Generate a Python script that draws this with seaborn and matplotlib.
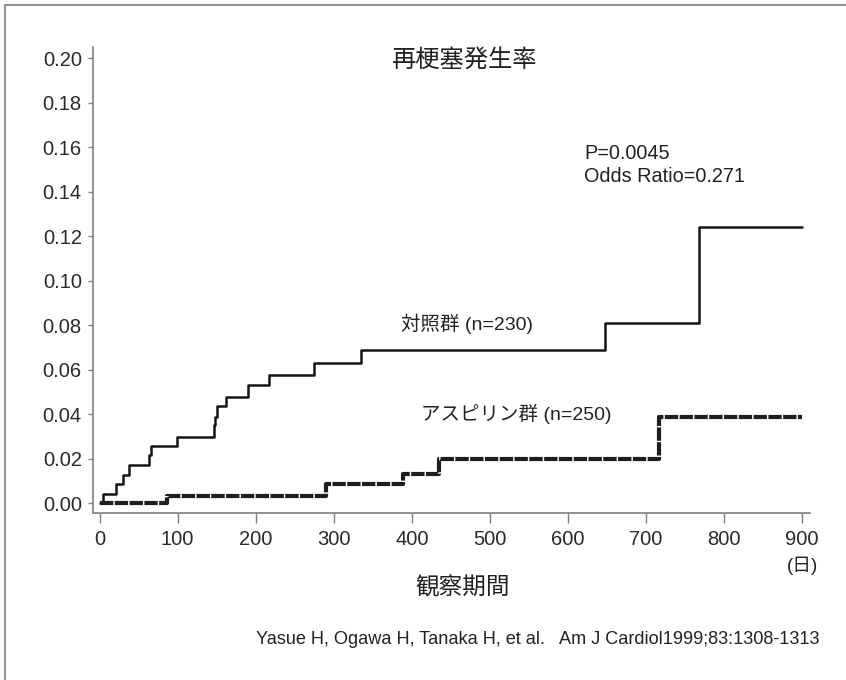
import matplotlib
matplotlib.use("Agg")
import matplotlib.pyplot as plt
from matplotlib.lines import Line2D
import seaborn as sns
import pandas as pd

# ---- data ----
control_days = [0, 5, 21, 30, 38, 63, 66, 99, 146, 148, 150, 162, 190, 217, 275, 335, 648, 768, 900]
control_rate = [0.0, 0.0042, 0.0088, 0.0128, 0.0174, 0.0217, 0.026, 0.030, 0.035, 0.039,
                0.0437, 0.048, 0.053, 0.0577, 0.063, 0.069, 0.081, 0.124, 0.124]
aspirin_days = [0, 86, 290, 389, 435, 717, 900]
aspirin_rate = [0.0, 0.0033, 0.0085, 0.0132, 0.0198, 0.0389, 0.0389]

x_ticks = [0, 100, 200, 300, 400, 500, 600, 700, 800, 900]
y_ticks = [0.00, 0.02, 0.04, 0.06, 0.08, 0.10, 0.12, 0.14, 0.16, 0.18, 0.20]
y_ticklabels = [f"{v:.2f}" for v in y_ticks]

title = "再梗塞発生率"
xlabel = "観察期間"
unit_label = "(日)"
control_label = "対照群 (n=230)"
aspirin_label = "アスピリン群 (n=250)"
stats_text = "P=0.0045\nOdds Ratio=0.271"
citation = "Yasue H, Ogawa H, Tanaka H, et al.   Am J Cardiol1999;83:1308-1313"

sns.set_theme(style="ticks")
plt.rcParams["font.family"] = ["Liberation Sans", "Noto Sans CJK JP", "DejaVu Sans"]

W, H = 846, 680
fig = plt.figure(figsize=(W / 100, H / 100), dpi=100)
fig.patch.set_facecolor("white")

# axes placement (pixels -> figure fraction)
ax_l, ax_r, ax_t, ax_b = 93.3, 810.0, 46.7, 512.5
ax = fig.add_axes([ax_l / W, (H - ax_b) / H, (ax_r - ax_l) / W, (ax_b - ax_t) / H])
ax.set_facecolor("white")

df_c = pd.DataFrame({"day": control_days, "rate": control_rate})
df_a = pd.DataFrame({"day": aspirin_days, "rate": aspirin_rate})

sns.lineplot(data=df_c, x="day", y="rate", ax=ax, color="#151515", linewidth=1.8,
             drawstyle="steps-post", estimator=None, sort=False, legend=False)
sns.lineplot(data=df_a, x="day", y="rate", ax=ax, color="#1e1e1e", linewidth=3.0,
             drawstyle="steps-post", estimator=None, sort=False, legend=False,
             dashes=False, linestyle=(0, (3.2, 0.35)))

ax.set_xlim(-8, 910)
ax.set_ylim(-0.0041, 0.2052)
ax.set_xticks(x_ticks)
ax.set_yticks(y_ticks)
ax.set_yticklabels(y_ticklabels)
ax.set_xlabel("")
ax.set_ylabel("")

for s in ["top", "right"]:
    ax.spines[s].set_visible(False)
for s in ["left", "bottom"]:
    ax.spines[s].set_color("#808080")
    ax.spines[s].set_linewidth(1.2)

ax.tick_params(axis="y", length=3.8, width=1.0, color="#808080", pad=4.5,
               labelsize=14.5, labelcolor="#2a2a2a")
ax.tick_params(axis="x", length=7.5, width=1.0, color="#808080", pad=5.0,
               labelsize=14.5, labelcolor="#2a2a2a")

# texts in figure pixel coordinates
def fx(px):
    return px / W

def fy(py):
    return (H - py) / H

fig.text(fx(464), fy(60), title, ha="center", va="center", fontsize=17.5, color="#222222")
fig.text(fx(584), fy(165), stats_text, ha="left", va="center", fontsize=14.3,
         color="#222222", linespacing=1.32)
fig.text(fx(467), fy(324), control_label, ha="center", va="center", fontsize=14, color="#222222")
fig.text(fx(516), fy(414), aspirin_label, ha="center", va="center", fontsize=14, color="#222222")
fig.text(fx(818), fy(566), unit_label, ha="right", va="center", fontsize=13.5, color="#222222")
fig.text(fx(463), fy(588), xlabel, ha="center", va="center", fontsize=17, color="#222222")
fig.text(fx(819), fy(639), citation, ha="right", va="center", fontsize=13.1, color="#222222")

# outer frame (top and left edges visible in the reference)
fig.add_artist(Line2D([fx(5), fx(5)], [fy(5), 0], transform=fig.transFigure,
                      color="#808080", linewidth=1.2))
fig.add_artist(Line2D([fx(5), 1], [fy(5), fy(5)], transform=fig.transFigure,
                      color="#808080", linewidth=1.2))

fig.savefig("out.png", dpi=100, facecolor="white")
